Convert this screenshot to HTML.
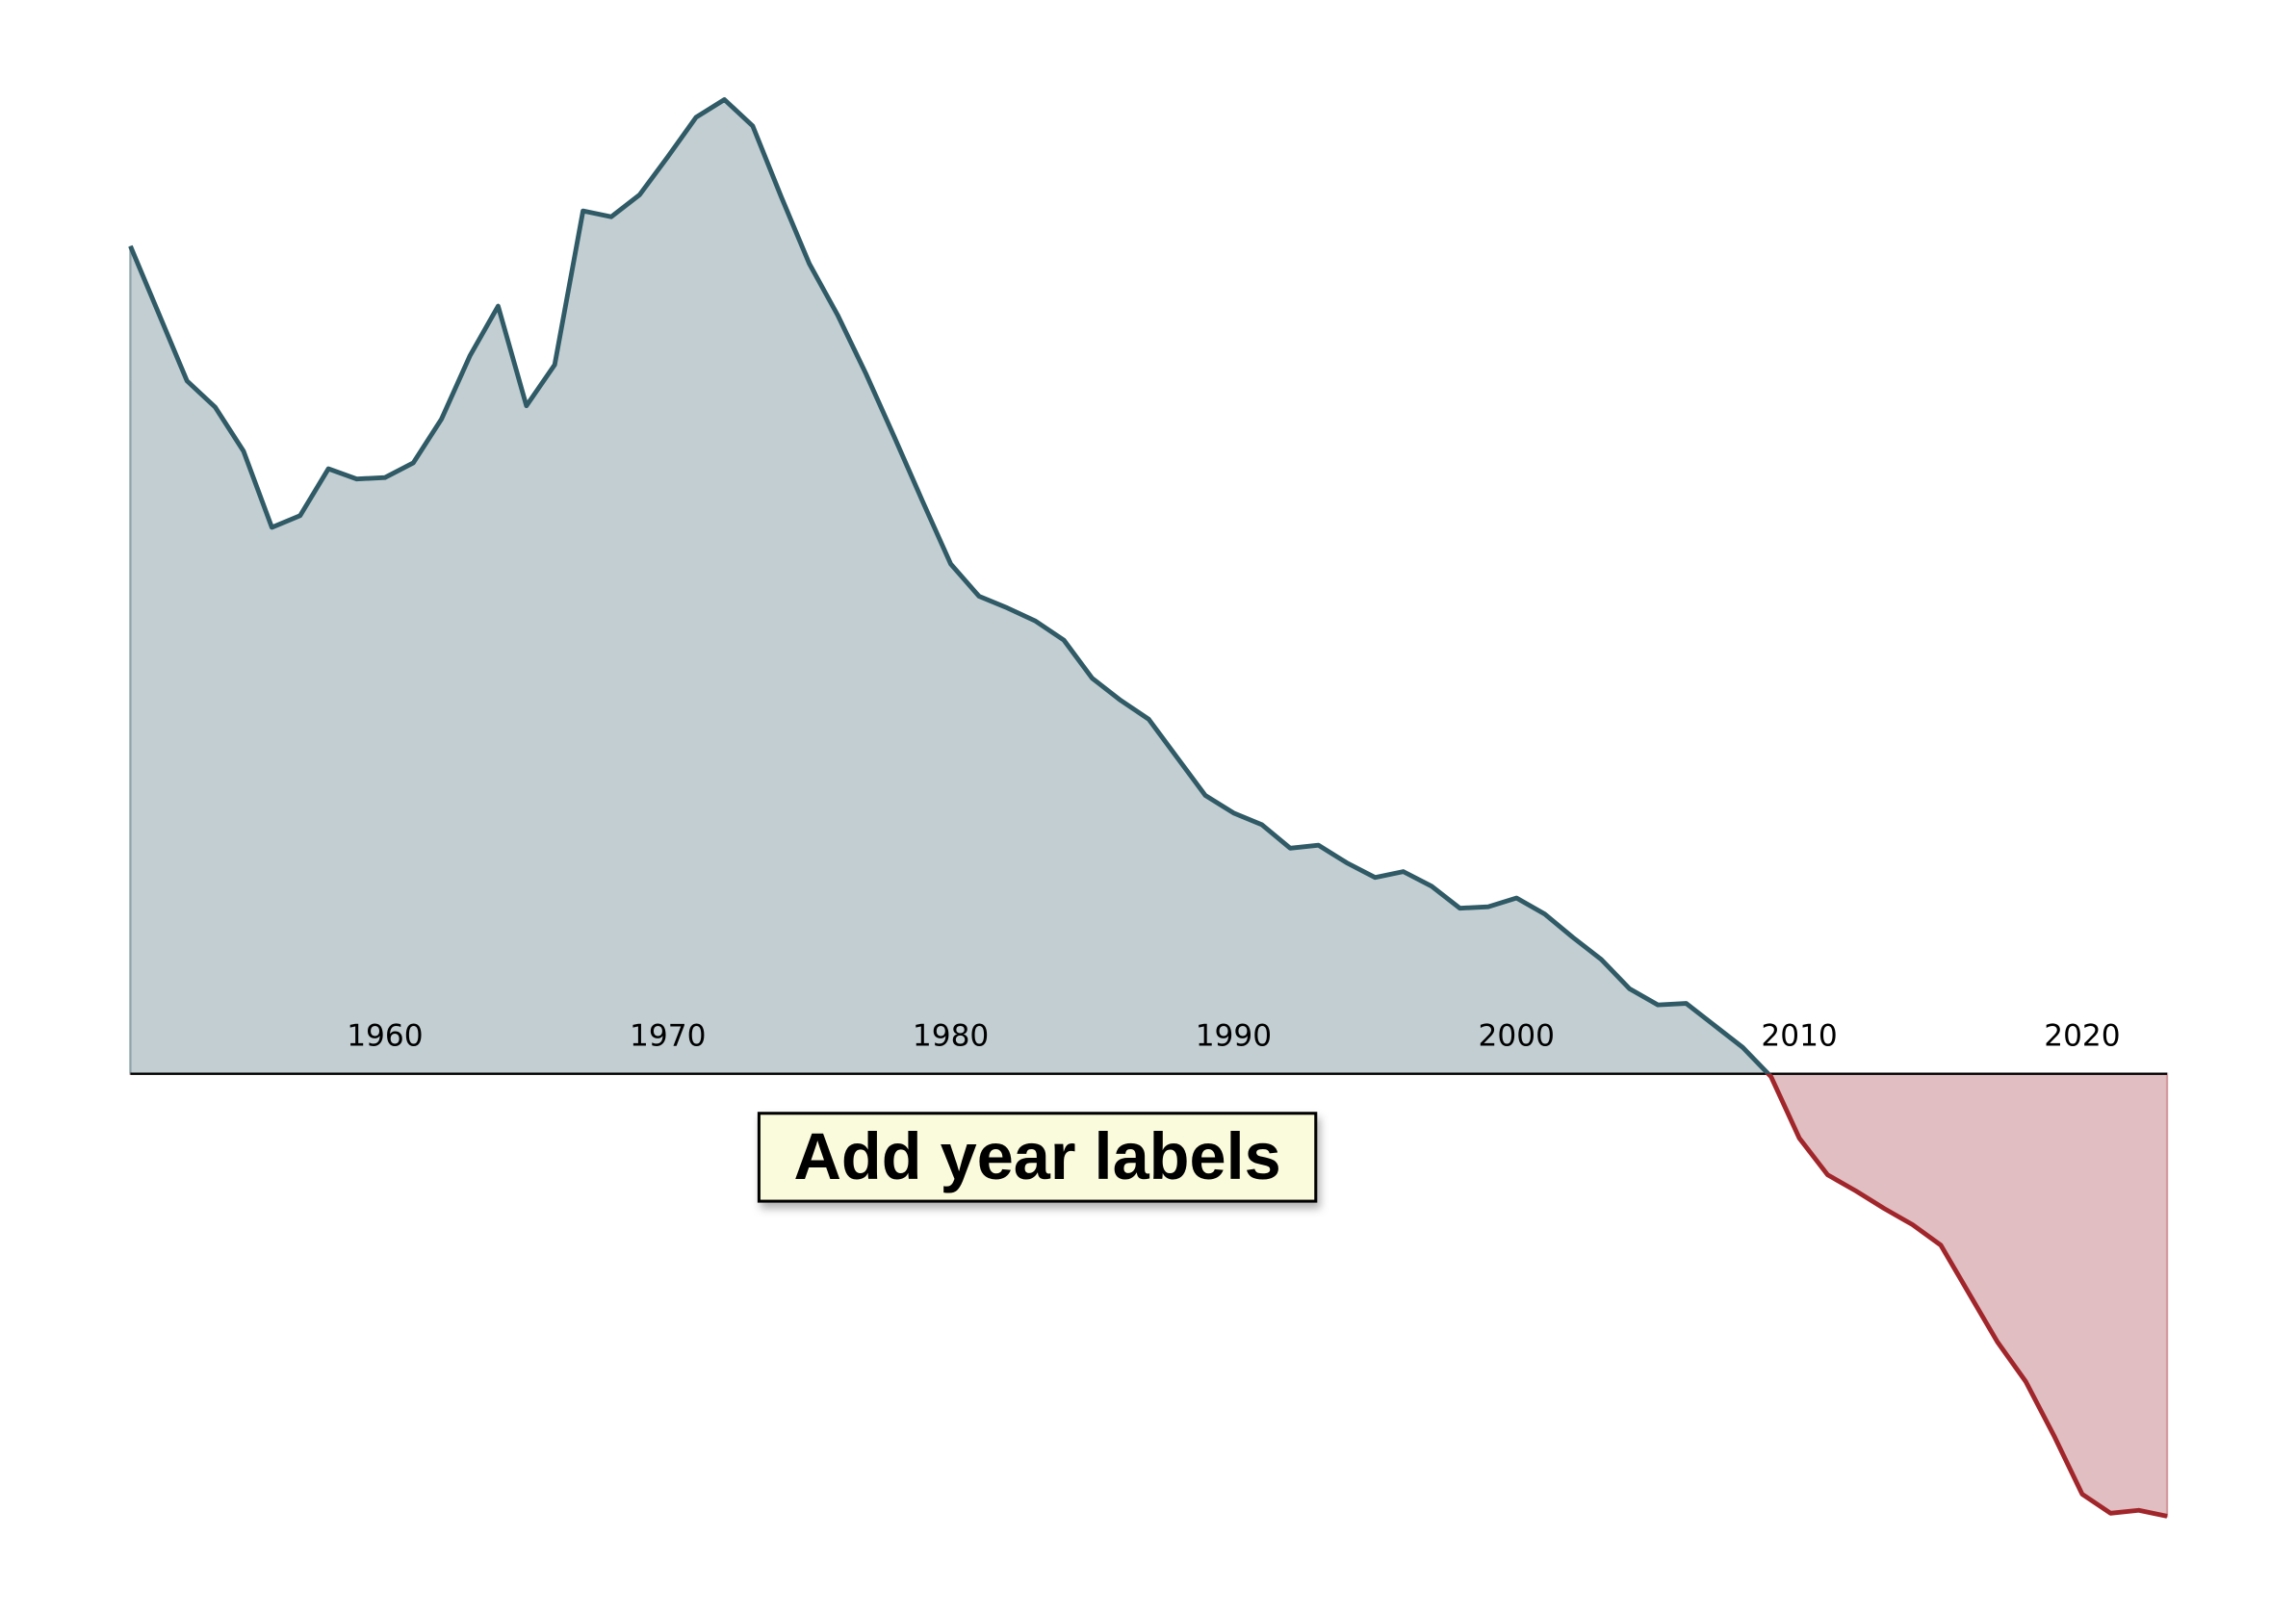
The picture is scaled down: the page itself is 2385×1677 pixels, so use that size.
<!DOCTYPE html>
<html><head><meta charset="utf-8"><style>
html,body{margin:0;padding:0;background:#fff;}
svg{display:block;}
</style></head><body>
<svg id="chart" width="2385" height="1677" viewBox="0 0 1567 1101.8" preserveAspectRatio="none" xmlns="http://www.w3.org/2000/svg">
<defs>
<clipPath id="clipPos"><rect x="0" y="0" width="1567" height="733"/></clipPath>
<clipPath id="clipNeg"><rect x="0" y="733" width="1567" height="400"/></clipPath>
<filter id="sh" x="-10%" y="-10%" width="130%" height="150%"><feDropShadow dx="2" dy="4" stdDeviation="3" flood-color="#000" flood-opacity="0.3"/></filter>
</defs>
<g id="plot"></g>
<g>
<rect x="518" y="760" width="380" height="60" fill="#fafadc" stroke="#000" stroke-width="2" filter="url(#sh)"/>
<text x="708" y="805" text-anchor="middle" font-family="Liberation Sans, sans-serif" font-weight="bold" font-size="45" fill="#000">Add year labels</text>
</g>
</svg>
<script>
const years = [];
for (let y = 1951; y <= 2023; y++) years.push(y);
const values = [56.5,51.9,47.3,45.5,42.5,37.3,38.1,41.3,40.6,40.7,41.7,44.7,49.0,52.4,45.6,48.4,58.9,58.5,60.0,62.6,65.3,66.5,64.7,59.9,55.3,51.8,47.8,43.5,39.1,34.8,32.6,31.8,30.9,29.6,27.0,25.5,24.2,21.6,19.0,17.8,17.0,15.4,15.6,14.4,13.4,13.8,12.8,11.3,11.4,12.0,10.9,9.3,7.8,5.8,4.7,4.8,3.3,1.8,-0.2,-4.4,-6.9,-8.0,-9.2,-10.3,-11.7,-15.0,-18.3,-21.0,-24.7,-28.7,-30.0,-29.8,-30.2];
const tickYears = [1960,1970,1980,1990,2000,2010,2020];
const tickLabels = ["1960","1970","1980","1990","2000","2010","2020"];
const NS='http://www.w3.org/2000/svg';
const x0=89, x1=1479, y0=733;
const xs = yr => x0 + (yr - years[0]) / (years[years.length-1] - years[0]) * (x1 - x0);
const ys = v => y0 - v * 10;
const g = document.getElementById('plot');
let line = years.map((yr,i)=>(i?'L':'M')+xs(yr).toFixed(2)+','+ys(values[i]).toFixed(2)).join(' ');
let area = line + ' L'+xs(years[years.length-1])+','+y0+' L'+xs(years[0])+','+y0+' Z';
function mk(tag, attrs){const e=document.createElementNS(NS,tag);for(const k in attrs)e.setAttribute(k,attrs[k]);g.appendChild(e);return e;}
const ap = mk('path',{d:area,fill:'#c2ced2',stroke:'#8fa5ab','stroke-width':1.5,'clip-path':'url(#clipPos)'});


const an = mk('path',{d:area,fill:'#e1bec1',stroke:'#d49a9f','stroke-width':1.5,'clip-path':'url(#clipNeg)'});


tickYears.forEach((yr,i)=>{
  const t = mk('text',{x:xs(yr),y:714,'text-anchor':'middle','font-family':'DejaVu Sans, sans-serif','font-size':20.5,fill:'#000'});
  t.textContent = tickLabels[i];
  
  
});
const ax = mk('line',{x1:x0,x2:x1,y1:y0,y2:y0,stroke:'#000','stroke-width':1.6});


const lp = mk('path',{d:line,fill:'none',stroke:'#2f5a66','stroke-width':3.2,'stroke-linejoin':'round','clip-path':'url(#clipPos)'});


const ln = mk('path',{d:line,fill:'none',stroke:'#a0262b','stroke-width':3.2,'stroke-linejoin':'round','clip-path':'url(#clipNeg)'});


</script>
</body></html>
